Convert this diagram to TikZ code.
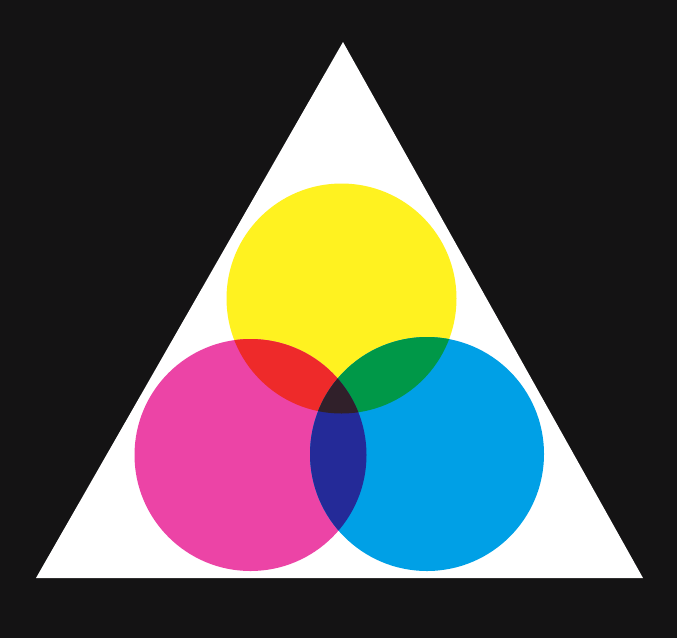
\documentclass[tikz,border=0pt]{standalone}
\definecolor{bgblack}{RGB}{20,19,20}
\definecolor{cyel}{RGB}{255,242,32}
\definecolor{cmag}{RGB}{236,68,166}
\definecolor{ccya}{RGB}{0,160,230}
\definecolor{cred}{RGB}{238,42,42}
\definecolor{cgrn}{RGB}{0,152,72}
\definecolor{cblu}{RGB}{36,42,152}
\definecolor{cdark}{RGB}{48,32,42}
\begin{document}
\begin{tikzpicture}[x=1pt,y=-1pt]
\useasboundingbox (0,0) rectangle (677,638);
\fill[bgblack] (0,0) rectangle (677,638);
\coordinate (apex) at (343,42);
\coordinate (bl) at (36,578);
\coordinate (br) at (643,578);
\fill[white] (apex) -- (bl) -- (br) -- cycle;
\def\Ycirc{(341.5,298.5) circle[radius=115]}
\def\Mcirc{(250.5,455) circle[radius=116]}
\def\Ccirc{(427,454) circle[radius=117]}
\fill[cyel] \Ycirc;
\fill[cmag] \Mcirc;
\fill[ccya] \Ccirc;
\begin{scope}
  \clip \Ycirc;
  \fill[cred] \Mcirc;
  \fill[cgrn] \Ccirc;
\end{scope}
\begin{scope}
  \clip \Mcirc;
  \fill[cblu] \Ccirc;
  \clip \Ccirc;
  \fill[cdark] \Ycirc;
\end{scope}
\end{tikzpicture}
\end{document}
